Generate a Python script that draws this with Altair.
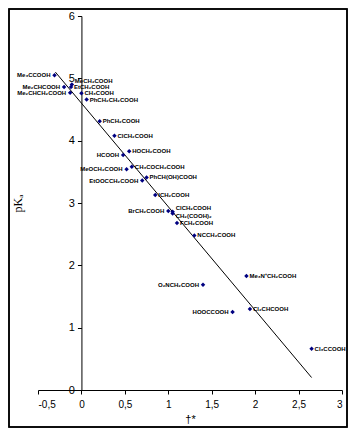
import altair as alt
import pandas as pd

acids = ["Me₃CCOOH", "Me₂CHCOOH", "MeCH₂COOH", "EtCH₂COOH", "Me₂CHCH₂COOH",
         "CH₃COOH", "PhCH₂CH₂COOH", "PhCH₂COOH", "ClCH₂COOH", "HOCH₂COOH",
         "HCOOH", "CH₃COCH₂COOH", "MeOCH₂COOH", "PhCH(OH)COOH", "EtOOCCH₂COOH",
         "ICH₂COOH", "ClCH₂COOH", "BrCH₂COOH", "CH₂(COOH)₂", "FCH₂COOH",
         "NCCH₂COOH", "Me₃N⁺CH₂COOH", "O₂NCH₂COOH", "Cl₂CHCOOH", "HOOCCOOH",
         "Cl₃CCOOH"]
sigma = [-0.31, -0.20, -0.11, -0.12, -0.13,
         0.0, 0.06, 0.21, 0.38, 0.55,
         0.48, 0.58, 0.52, 0.75, 0.70,
         0.85, 1.05, 1.00, 1.05, 1.10,
         1.30, 1.90, 1.40, 1.94, 1.74,
         2.65]
pka = [5.05, 4.86, 4.90, 4.86, 4.77,
       4.76, 4.66, 4.31, 4.08, 3.83,
       3.77, 3.58, 3.54, 3.41, 3.36,
       3.13, 2.86, 2.87, 2.83, 2.68,
       2.48, 1.83, 1.69, 1.30, 1.25,
       0.66]
# which side of the marker the label sits on (L = left, R = right, RU/RD = right, raised/lowered)
side = ["L", "L", "RU", "R", "L",
        "R", "R", "R", "R", "R",
        "L", "R", "L", "R", "L",
        "R", "RU", "L", "RD", "R",
        "R", "R", "L", "R", "L",
        "R"]

line_sigma = [-0.3, 2.65]
line_pka = [5.1, 0.2]

x_ticks = [-0.5, 0, 0.5, 1, 1.5, 2, 2.5, 3]
y_ticks = [0, 1, 2, 3, 4, 5, 6]

W, H = 304, 374
x_dom = [-0.5, 3]
y_offset = -(0 - x_dom[0]) / (x_dom[1] - x_dom[0]) * W

df = pd.DataFrame({"acid": acids, "sigma": sigma, "pka": pka, "side": side})
line_df = pd.DataFrame({"sigma": line_sigma, "pka": line_pka})

xs = alt.Scale(domain=x_dom, nice=False, zero=False)
ys = alt.Scale(domain=[0, 6], nice=False, zero=False)

x_axis = alt.Axis(values=x_ticks, grid=False, tickSize=4, tickColor="black",
                  domainColor="black", labelColor="black", labelFont="Liberation Sans",
                  labelFontSize=10, labelPadding=5,
                  labelExpr="replace('' + datum.value, '.', ',')",
                  title="†*", titleFont="Liberation Sans", titleFontSize=11,
                  titleFontWeight="normal", titleColor="black", titlePadding=4)
y_axis = alt.Axis(values=y_ticks, format="d", grid=False, tickSize=4, tickColor="black",
                  domainColor="black", labelColor="black", labelFont="Liberation Sans",
                  labelFontSize=11, labelPadding=3, offset=y_offset,
                  title="pKₐ", titleFont="Liberation Serif", titleFontSize=12,
                  titleFontWeight="normal", titleColor="black",
                  titleX=-57, titleY=H / 2)

base = alt.Chart(df)

line = alt.Chart(line_df).mark_line(color="black", strokeWidth=1).encode(
    x=alt.X("sigma:Q", scale=xs, axis=x_axis),
    y=alt.Y("pka:Q", scale=ys, axis=y_axis),
)

points = base.mark_point(shape="diamond", filled=True, size=20, color="#000080", opacity=1).encode(
    x=alt.X("sigma:Q", scale=xs),
    y=alt.Y("pka:Q", scale=ys),
)

txt = dict(fontSize=6, font="Liberation Sans", fontWeight="bold", color="black", baseline="middle")
enc = dict(x=alt.X("sigma:Q", scale=xs), y=alt.Y("pka:Q", scale=ys), text="acid:N")

left = base.transform_filter(alt.datum.side == "L").mark_text(align="right", dx=-4, **txt).encode(**enc)
right = base.transform_filter(alt.datum.side == "R").mark_text(align="left", dx=3, **txt).encode(**enc)
right_up = base.transform_filter(alt.datum.side == "RU").mark_text(align="left", dx=3, dy=-4, **txt).encode(**enc)
right_dn = base.transform_filter(alt.datum.side == "RD").mark_text(align="left", dx=3, dy=2, **txt).encode(**enc)

frame = alt.Chart(line_df).mark_rect(fill=None, stroke="black", strokeWidth=1.5).encode(
    x=alt.value(-29), x2=alt.value(W + 5), y=alt.value(-7), y2=alt.value(H + 37)
)

chart = alt.layer(frame, line, points, left, right, right_up, right_dn).properties(
    width=W, height=H,
    autosize=alt.AutoSizeParams(type="none"),
    padding={"left": 30, "top": 8, "right": 6, "bottom": 38},
).configure_view(stroke=None)

chart.save("out.html", embed_options={"renderer": "svg", "actions": False})
